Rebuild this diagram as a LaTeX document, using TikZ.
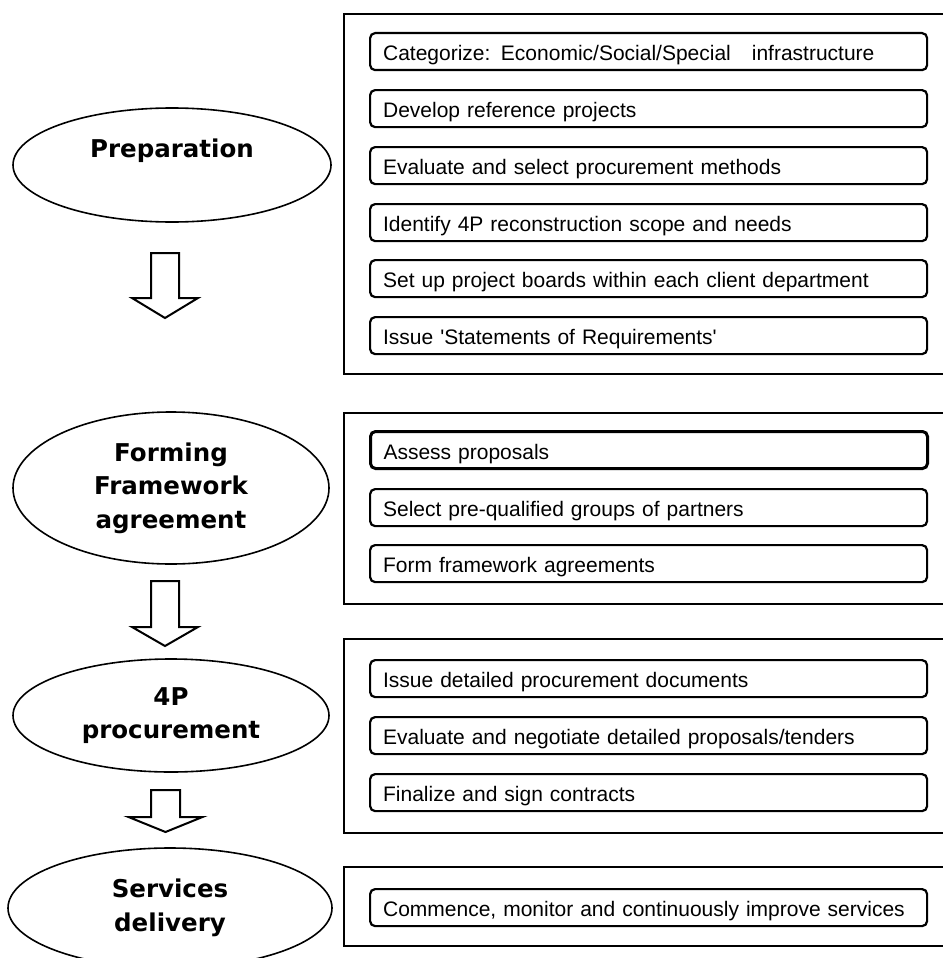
\documentclass[tikz,border=0pt]{standalone}
\usepackage{fontspec}
\newfontfamily\boxfont{Liberation Sans}
\newfontfamily\ellfont{DejaVu Sans}
\usetikzlibrary{shapes.geometric}
\begin{document}
\begin{tikzpicture}[x=1pt,y=-1pt,
  stage/.style={ellipse, draw, line width=1.6pt, inner sep=0pt, align=center,
    font=\ellfont\bfseries\fontsize{24.5}{33.5}\selectfont},
  group/.style={draw, line width=2pt, anchor=north west, inner sep=0pt, minimum width=640pt},
  item/.style={draw, line width=2.2pt, rounded corners=5pt, anchor=north west,
    minimum height=37pt, text width=531pt, inner xsep=13pt, inner ysep=0pt,
    text height=18.4pt, text depth=0pt, align=left,
    font=\boxfont\fontsize{21}{25}\selectfont},
  blockarrow/.style={draw, line width=2pt, fill=white, line join=miter}]

\useasboundingbox (0,0) rectangle (942,958);

% stages
\node[stage, minimum width=318pt, minimum height=114pt] (prep) at (172,165) {Preparation\\\mbox{}};
\node[stage, minimum width=316pt, minimum height=152pt] (form) at (171,488) {Forming\\Framework\\agreement};
\node[stage, minimum width=316pt, minimum height=113pt] (proc) at (171,715.5) {4P\\procurement};
\node[stage, minimum width=324pt, minimum height=120pt] (serv) at (170,908) {Services\\delivery};

% arrows between stages
\coordinate (a1) at (165,253);
\coordinate (a2) at (165,581);
\coordinate (a3) at (165.5,790);
\draw[blockarrow] (a1) ++(-14,0) -- ++(28,0) -- ++(0,45) -- ++(19,0) -- ++(-33,20) -- ++(-33,-20) -- ++(19,0) -- cycle;
\draw[blockarrow] (a2) ++(-14,0) -- ++(28,0) -- ++(0,46) -- ++(19,0) -- ++(-33,19) -- ++(-33,-19) -- ++(19,0) -- cycle;
\draw[blockarrow] (a3) ++(-14.5,0) -- ++(29,0) -- ++(0,27) -- ++(22.5,0) -- ++(-37,15) -- ++(-37,-15) -- ++(22.5,0) -- cycle;

% group frames
\node[group, minimum height=360pt] (g1) at (343,13) {};
\node[group, minimum height=191pt] (g2) at (343,412) {};
\node[group, minimum height=194pt] (g3) at (343,638) {};
\node[group, minimum height=79pt]  (g4) at (343,866) {};

% group 1 items
\node[item] (i11) at (369,32)  {Categorize: Economic/Social/Special\ \ \ infrastructure};
\node[item] (i12) at (369,89)  {Develop reference projects};
\node[item] (i13) at (369,146) {Evaluate and select procurement methods};
\node[item] (i14) at (369,203) {Identify 4P reconstruction scope and needs};
\node[item] (i15) at (369,259) {Set up project boards within each client department};
\node[item] (i16) at (369,316) {Issue \textquotesingle Statements of Requirements\textquotesingle};

% group 2 items
\node[item, line width=3pt] (i21) at (369,430) {Assess proposals};
\node[item] (i22) at (369,488) {Select pre-qualified groups of partners};
\node[item] (i23) at (369,544) {Form framework agreements};

% group 3 items
\node[item] (i31) at (369,659) {Issue detailed procurement documents};
\node[item] (i32) at (369,716) {Evaluate and negotiate detailed proposals/tenders};
\node[item] (i33) at (369,773) {Finalize and sign contracts};

% group 4 items
\node[item] (i41) at (369,888) {Commence, monitor and continuously improve services};
\end{tikzpicture}
\end{document}
